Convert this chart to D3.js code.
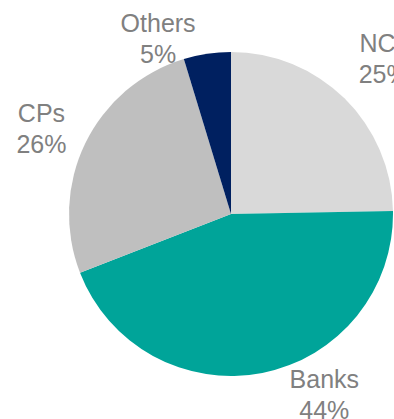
<!DOCTYPE html>
<meta charset="utf-8">
<title>Funding mix</title>
<style>
body {
  margin: 0;
  background: #fff;
}
svg {
  display: block;
}
.label {
  font-family: "Liberation Sans", Arial, sans-serif;
  font-size: 25px;
  fill: #808080;
}
</style>
<body>
<script src="https://cdn.jsdelivr.net/npm/d3@7"></script>
<script>

// data (shares in %)
var categories = ["NCs", "Banks", "CPs", "Others"];
var shares = [24.7, 44.4, 26.2, 4.7];
var shareLabels = ["25%", "44%", "26%", "5%"];
var colours = ["#d9d9d9", "#00a499", "#bfbfbf", "#002060"];

var width = 394,
    height = 419,
    radius = 162,
    cx = 231,
    cy = 214;

// outside-end labels: angle nudge (deg) and distance from centre
var labelNudge = [0, -16.2, -1.6, -14.1],
    labelRadius = [218, 203, 208, 190],
    lineGap = 31;

var pie = d3.pie()
    .sort(null)
    .value(function(d) { return d; });

var arc = d3.arc()
    .innerRadius(0)
    .outerRadius(radius);

var color = d3.scaleOrdinal()
    .domain(categories)
    .range(colours);

var svg = d3.select("body").append("svg")
    .attr("width", width)
    .attr("height", height);

var g = svg.append("g")
    .attr("transform", "translate(" + cx + "," + cy + ")");

var arcs = pie(shares);

g.selectAll("path.slice")
    .data(arcs)
  .enter().append("path")
    .attr("class", "slice")
    .attr("d", arc)
    .style("fill", function(d, i) { return color(categories[i]); });

var labels = g.selectAll("text.label")
    .data(arcs)
  .enter().append("text")
    .attr("class", "label")
    .attr("text-anchor", "middle")
    .attr("transform", function(d, i) {
      var mid = (d.startAngle + d.endAngle) / 2 + labelNudge[i] * Math.PI / 180;
      var p = d3.pointRadial(mid, labelRadius[i]);
      return "translate(" + p[0] + "," + p[1] + ")";
    });

labels.append("tspan")
    .attr("x", 0)
    .attr("y", -lineGap / 2 + 9)
    .text(function(d, i) { return categories[i]; });

labels.append("tspan")
    .attr("x", 0)
    .attr("y", lineGap / 2 + 9)
    .text(function(d, i) { return shareLabels[i]; });

</script>
</body>
